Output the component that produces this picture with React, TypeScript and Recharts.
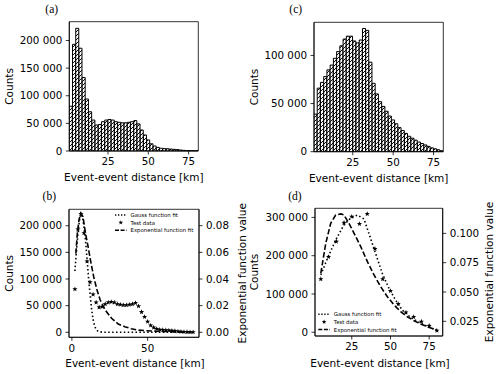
import React from 'react';
import { ComposedChart, Bar, Line, Scatter, XAxis, YAxis, ReferenceArea } from 'recharts';

// ---------- data ----------
const binCenters = [2, 4, 6, 8, 10, 12, 14, 16, 18, 20, 22, 24, 26, 28, 30, 32, 34, 36, 38, 40,
  42, 44, 46, 48, 50, 52, 54, 56, 58, 60, 62, 64, 66, 68, 70, 72, 74, 76, 78, 80];
const countsA = [81000, 193000, 222000, 186000, 133000, 94000, 71000, 56000, 47000, 48000,
  53000, 56000, 57000, 56000, 53000, 52000, 51000, 51000, 52000, 53000,
  55000, 49000, 38000, 29000, 20000, 13000, 9000, 6500, 5000, 4300,
  4000, 3500, 3000, 2500, 1800, 1200, 800, 500, 300, 200];
const countsC = [39000, 66000, 72000, 78000, 85000, 90000, 97000, 104000, 110000, 117000,
  120000, 120000, 115000, 113000, 116000, 128000, 126000, 93000, 71000, 60000,
  52000, 47000, 42000, 37000, 33000, 29000, 25000, 22000, 19000, 16000,
  14000, 12000, 10000, 8500, 7000, 5500, 4000, 3000, 2000, 1000];

const gaussBx = [2, 3, 4, 5, 6, 7, 8, 9, 10, 11, 12, 13, 14, 15, 16, 17, 18, 20, 25, 40, 60, 80];
const gaussBy = [115000, 152000, 185000, 210000, 222000, 216000, 198000, 172000, 138000, 102000,
  72000, 44000, 24000, 12000, 5500, 2500, 1000, 300, 0, 0, 0, 0];
const expBx = [2.6, 3.6, 4.7, 5.8, 7.3, 9.0, 10.7, 12.3, 14.4, 16.6, 18.7, 22, 26.2, 30.6, 34.9, 39.2, 43.5, 47.8, 56, 65, 80];
const expBv = [0.059, 0.0743, 0.0843, 0.0893, 0.0868, 0.0743, 0.0643, 0.054, 0.0417, 0.0317, 0.0242,
  0.0167, 0.0105, 0.0062, 0.0042, 0.0027, 0.0017, 0.0013, 0.0008, 0.0005, 0.0002];

const testDx = [5, 10, 15, 20, 25, 30, 35, 40, 45, 50, 55, 60, 65, 70, 75, 80];
const testDy = [139000, 197000, 237000, 286000, 302000, 283000, 309000, 218000, 139000, 108000,
  74000, 52000, 40000, 28000, 17000, 4500];
const gaussDx = [5, 9.3, 14.6, 19.9, 24.2, 28.6, 32.9, 36.1, 40.4, 44.7, 49, 53.3, 57.6, 63, 69.5, 75.9, 80];
const gaussDy = [150000, 193000, 241000, 280000, 298000, 306000, 296000, 258000, 206000, 154000,
  115000, 84000, 58000, 39000, 23500, 12000, 5000];
const expDx = [5, 8.2, 11.4, 14.6, 17.9, 20, 23.2, 26.5, 30.8, 35.1, 39.4, 43.7, 48, 52.3, 56.6, 60.9, 65.2, 69.5, 73.8, 78.1, 80];
const expDv = [0.066, 0.0915, 0.1086, 0.1157, 0.1166, 0.1157, 0.1086, 0.1001, 0.0887, 0.0759, 0.0645,
  0.0545, 0.046, 0.0389, 0.0332, 0.0289, 0.0255, 0.0227, 0.0204, 0.0184, 0.0176];

const countTicksA = [0, 50000, 100000, 150000, 200000];
const countTicksC = [0, 50000, 100000];
const countTicksD = [0, 100000, 200000, 300000];
const expTicksB = [0, 0.02, 0.04, 0.06, 0.08];
const expTicksD = [0.025, 0.05, 0.075, 0.1];
const distTicks = [25, 50, 75];
const distTicksB = [0, 50];

const xLabel = 'Event-event distance [km]';
const yLabel = 'Counts';
const y2Label = 'Exponential function value';
const legendLabels = ['Gauss function fit', 'Test data', 'Exponential function fit'];

// ---------- styling ----------
const W = 500, H = 374;
const FONT = 'DejaVu Sans';
const tickStyle = { fill: '#000', fontSize: 10.3, fontFamily: FONT };
const lineStyle = { stroke: '#000', strokeWidth: 0.8 };
const fmtCount = (v: number) => String(Math.round(v)).replace(/\B(?=(\d{3})+(?!\d))/g, '\u00a0');
const DOT = '1.5 2.4';
const DASH = '5.5 2.4';

const starPath = (cx: number, cy: number, r: number) => {
  const pts: string[] = [];
  for (let i = 0; i < 10; i++) {
    const rr = i % 2 === 0 ? r : r * 0.42;
    const a = -Math.PI / 2 + (i * Math.PI) / 5;
    pts.push(`${(cx + rr * Math.cos(a)).toFixed(2)},${(cy + rr * Math.sin(a)).toFixed(2)}`);
  }
  return 'M' + pts.join('L') + 'Z';
};
const StarShape = (p: any) => <path d={starPath(p.cx, p.cy, 2.7)} fill="#000" />;

type Frame = { left: number; top: number; right: number; bottom: number };
const Y_W = 50, Y2_W = 45, X_H = 20;
const marginOf = (f: Frame, rightAxis: boolean) => ({
  top: f.top,
  left: f.left - Y_W,
  right: W - f.right - (rightAxis ? Y2_W : 0),
  bottom: H - f.bottom - X_H,
});

const abs: React.CSSProperties = { position: 'absolute', left: 0, top: 0 };

function HistPanel({ counts, frame, yDomain, yTicks, pid }: any) {
  const data = binCenters.map((x, i) => ({ x, y: counts[i] }));
  const xd: [number, number] = [1, 81];
  const P = 4;
  return (
    <div style={abs}>
      <ComposedChart width={W} height={H} data={data} margin={marginOf(frame, false)} barCategoryGap={0} barGap={0}>
        <defs>
          <pattern id={pid} patternUnits="userSpaceOnUse" width={P} height={P}>
            <rect x={0} y={0} width={P} height={P} fill="#fff" />
            <path d={`M-1,1 L1,-1 M0,${P} L${P},0 M${P - 1},${P + 1} L${P + 1},${P - 1}`} stroke="#000" strokeWidth={0.95} />
          </pattern>
        </defs>
        <XAxis dataKey="x" type="number" domain={xd} ticks={distTicks} allowDataOverflow height={X_H}
          tick={tickStyle} tickSize={3.5} tickMargin={3.5} axisLine={lineStyle} tickLine={lineStyle} interval={0} />
        <YAxis type="number" domain={yDomain} ticks={yTicks} allowDataOverflow width={Y_W} tickFormatter={fmtCount}
          tick={tickStyle} tickSize={3.5} tickMargin={3.5} axisLine={lineStyle} tickLine={lineStyle} interval={0} />
        <Bar dataKey="y" fill={`url(#${pid})`} stroke="#000" strokeWidth={1} isAnimationActive={false} />
        <ReferenceArea x1={xd[0]} x2={xd[1]} y1={yDomain[0]} y2={yDomain[1]} fill="none" fillOpacity={0}
          stroke="#000" strokeWidth={0.8} ifOverflow="visible" />
      </ComposedChart>
    </div>
  );
}

function FitPanel({ frame, xDomain, xTicks, yDomain, yTicks, y2Domain, y2Ticks, y2Fmt, test, gauss, exp }: any) {
  return (
    <div style={abs}>
      <ComposedChart width={W} height={H} margin={marginOf(frame, true)}>
        <XAxis dataKey="x" type="number" domain={xDomain} ticks={xTicks} allowDataOverflow height={X_H}
          tick={tickStyle} tickSize={3.5} tickMargin={3.5} axisLine={lineStyle} tickLine={lineStyle} interval={0} />
        <YAxis yAxisId="l" type="number" domain={yDomain} ticks={yTicks} allowDataOverflow width={Y_W} tickFormatter={fmtCount}
          tick={tickStyle} tickSize={3.5} tickMargin={3.5} axisLine={lineStyle} tickLine={lineStyle} interval={0} />
        <YAxis yAxisId="r" orientation="right" type="number" domain={y2Domain} ticks={y2Ticks} allowDataOverflow width={Y2_W}
          tickFormatter={y2Fmt} tick={tickStyle} tickSize={3.5} tickMargin={3.5} axisLine={lineStyle} tickLine={lineStyle} interval={0} />
        <Line yAxisId="l" data={gauss} dataKey="y" type="linear" stroke="#000" strokeWidth={1.6}
          strokeDasharray={DOT} dot={false} isAnimationActive={false} />
        <Scatter yAxisId="l" data={test} dataKey="y" shape={StarShape} isAnimationActive={false} />
        <Line yAxisId="r" data={exp} dataKey="v" type="linear" stroke="#000" strokeWidth={1.6}
          strokeDasharray={DASH} dot={false} isAnimationActive={false} />
        <ReferenceArea yAxisId="l" x1={xDomain[0]} x2={xDomain[1]} y1={yDomain[0]} y2={yDomain[1]} fill="none" fillOpacity={0}
          stroke="#000" strokeWidth={0.8} ifOverflow="visible" />
      </ComposedChart>
    </div>
  );
}

const frameA: Frame = { left: 69.3, top: 21.7, right: 198.3, bottom: 151 };
const frameC: Frame = { left: 314, top: 22.3, right: 443.3, bottom: 151.7 };
const frameB: Frame = { left: 69, top: 209.3, right: 199, bottom: 337.3 };
const frameD: Frame = { left: 315, top: 208.3, right: 442.7, bottom: 336 };

function LegendBox({ x, y }: { x: number; y: number }) {
  const rows = [0, 7.6, 15.2];
  return (
    <g>
      <line x1={x} x2={x + 11.7} y1={y + rows[0]} y2={y + rows[0]} stroke="#000" strokeWidth={1.4} strokeDasharray="1.3 1.7" />
      <path d={starPath(x + 5.8, y + rows[1], 2.4)} fill="#000" />
      <line x1={x} x2={x + 11.7} y1={y + rows[2]} y2={y + rows[2]} stroke="#000" strokeWidth={1.4} strokeDasharray="4 1.6" />
      {legendLabels.map((t, i) => (
        <text key={t} x={x + 15.5} y={y + rows[i]} fontSize={5.4} fontFamily={FONT} dominantBaseline="central" fill="#000">{t}</text>
      ))}
    </g>
  );
}

export default function App() {
  const testB = binCenters.map((x, i) => ({ x, y: countsA[i] }));
  const gaussB = gaussBx.map((x, i) => ({ x, y: gaussBy[i] }));
  const expB = expBx.map((x, i) => ({ x, v: expBv[i] }));
  const testD = testDx.map((x, i) => ({ x, y: testDy[i] }));
  const gaussD = gaussDx.map((x, i) => ({ x, y: gaussDy[i] }));
  const expD = expDx.map((x, i) => ({ x, v: expDv[i] }));
  const lab = { fontSize: 10.5, fontFamily: FONT, fill: '#000' };
  const pl = { fontSize: 11.5, fontFamily: 'Liberation Serif', fill: '#000' };
  return (
    <div style={{ position: 'absolute', left: 0, top: 0, width: W, height: H, background: '#fff', overflow: 'hidden' }}>
      <HistPanel counts={countsA} frame={frameA} yDomain={[0, 234000]} yTicks={countTicksA} pid="hatchA" />
      <HistPanel counts={countsC} frame={frameC} yDomain={[0, 134400]} yTicks={countTicksC} pid="hatchC" />
      <FitPanel frame={frameB} xDomain={[-1.9, 83.9]} xTicks={distTicksB} yDomain={[-9400, 230800]} yTicks={countTicksA}
        y2Domain={[-0.00375, 0.0923]} y2Ticks={expTicksB} y2Fmt={(v: number) => v.toFixed(2)}
        test={testB} gauss={gaussB} exp={expB} />
      <FitPanel frame={frameD} xDomain={[1.25, 83.75]} xTicks={distTicks} yDomain={[-9700, 323800]} yTicks={countTicksD}
        y2Domain={[0.01246, 0.1214]} y2Ticks={expTicksD} y2Fmt={(v: number) => v.toFixed(3)}
        test={testD} gauss={gaussD} exp={expD} />
      <svg width={W} height={H} style={{ ...abs, pointerEvents: 'none' }}>
        <text x={51.7} y={8.5} textAnchor="middle" dominantBaseline="central" {...pl}>(a)</text>
        <text x={295.7} y={9.3} textAnchor="middle" dominantBaseline="central" {...pl}>(c)</text>
        <text x={49.3} y={195.7} textAnchor="middle" dominantBaseline="central" {...pl}>(b)</text>
        <text x={295} y={195.7} textAnchor="middle" dominantBaseline="central" {...pl}>(d)</text>

        <text x={133.8} y={176.7} textAnchor="middle" dominantBaseline="central" {...lab}>{xLabel}</text>
        <text x={378.7} y={177.5} textAnchor="middle" dominantBaseline="central" {...lab}>{xLabel}</text>
        <text x={135} y={362.7} textAnchor="middle" dominantBaseline="central" {...lab}>{xLabel}</text>
        <text x={380} y={362.7} textAnchor="middle" dominantBaseline="central" {...lab}>{xLabel}</text>

        <text transform="translate(9.3,86.4) rotate(-90)" textAnchor="middle" dominantBaseline="central" {...lab}>{yLabel}</text>
        <text transform="translate(254,87) rotate(-90)" textAnchor="middle" dominantBaseline="central" {...lab}>{yLabel}</text>
        <text transform="translate(9.3,273.3) rotate(-90)" textAnchor="middle" dominantBaseline="central" {...lab}>{yLabel}</text>
        <text transform="translate(254,272) rotate(-90)" textAnchor="middle" dominantBaseline="central" {...lab}>{yLabel}</text>

        <text transform="translate(242.3,273.3) rotate(-90)" textAnchor="middle" dominantBaseline="central" {...lab}>{y2Label}</text>
        <text transform="translate(489.3,272) rotate(-90)" textAnchor="middle" dominantBaseline="central" {...lab}>{y2Label}</text>

        <LegendBox x={115} y={215} />
        <LegendBox x={318.3} y={314.3} />
      </svg>
    </div>
  );
}
